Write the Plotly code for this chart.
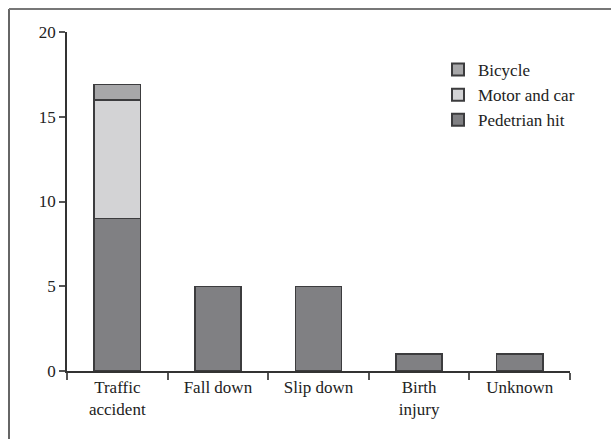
import plotly.graph_objects as go

categories = ["Traffic<br>accident", "Fall down", "Slip down", "Birth<br>injury", "Unknown"]
pedestrian_hit = [9, 5, 5, 1, 1]
motor_and_car = [7, 0, 0, 0, 0]
bicycle = [0.9, 0, 0, 0, 0]
y_ticks = [0, 5, 10, 15, 20]

font_family = "Liberation Serif, DejaVu Serif, serif"
edge = dict(color="#3c3c3e", width=1.5)

fig = go.Figure()
fig.add_bar(x=categories, y=pedestrian_hit, name="Pedetrian hit",
            marker=dict(color="#808083", line=edge))
fig.add_bar(x=categories, y=motor_and_car, name="Motor and car",
            marker=dict(color="#d3d3d5", line=edge))
fig.add_bar(x=categories, y=bicycle, name="Bicycle",
            marker=dict(color="#a7a7a9", line=edge))

W, H = 611, 439
L, R, T, B = 67, 41, 32, 68
pw, ph = W - L - R, H - T - B

def px(x):
    return (x - L) / pw

def py(y):
    return (H - B - y) / ph

fig.update_layout(
    width=W, height=H,
    barmode="stack",
    bargap=0.54,
    plot_bgcolor="white", paper_bgcolor="white",
    margin=dict(l=L, r=R, t=T, b=B),
    font=dict(family=font_family, size=17, color="#222222"),
    legend=dict(x=px(438), y=py(52), xanchor="left", yanchor="top",
                traceorder="reversed", font=dict(size=17),
                bgcolor="rgba(0,0,0,0)", itemsizing="constant",
                tracegroupgap=0),
    xaxis=dict(type="category", showline=True, linecolor="#333333", linewidth=1.5,
               ticks="outside", tickson="boundaries", ticklen=7, tickcolor="#555555",
               tickwidth=1.5, showgrid=False, range=[-0.5, 4.5]),
    yaxis=dict(range=[0, 20], tickvals=y_ticks, showline=True, linecolor="#333333",
               linewidth=1.5, ticks="outside", ticklen=6, tickcolor="#555555",
               tickwidth=1.5, showgrid=False, zeroline=False),
    shapes=[
        dict(type="line", xref="paper", yref="paper", x0=px(9), x1=px(9),
             y0=py(439), y1=py(9), line=dict(color="#333333", width=1.5)),
        dict(type="line", xref="paper", yref="paper", x0=px(9), x1=px(611),
             y0=py(9), y1=py(9), line=dict(color="#777777", width=2)),
    ],
)

fig.write_html("out.html", config={"displayModeBar": False},
               post_script="document.body.style.margin='0';document.body.style.overflow='hidden';")
